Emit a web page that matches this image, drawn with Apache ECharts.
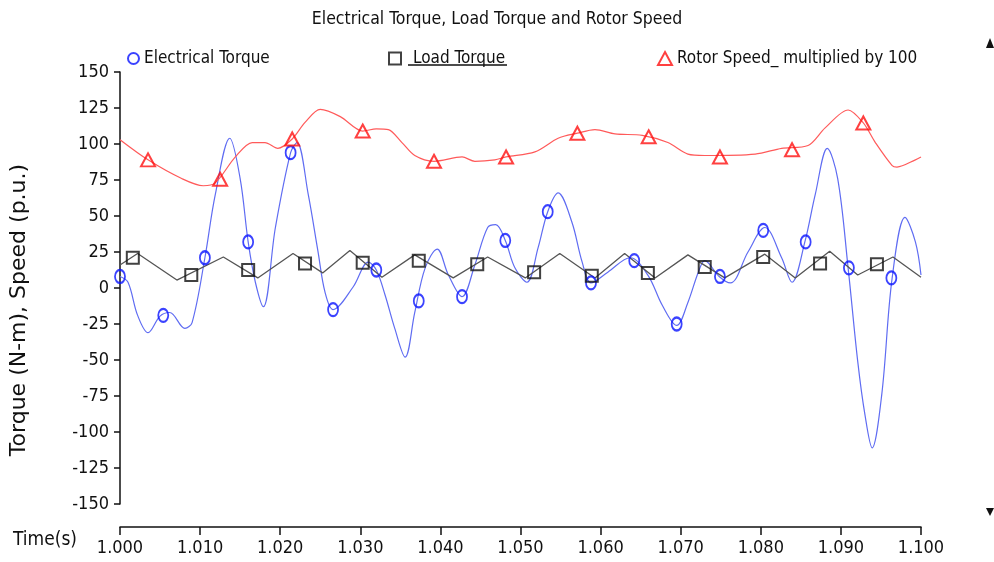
<!DOCTYPE html>
<html><head><meta charset="utf-8">
<script src="https://cdn.jsdelivr.net/npm/echarts@6/dist/echarts.min.js"></script>
<style>html,body{margin:0;padding:0;background:#fff}#c{width:994px;height:562px}</style>
</head><body><div id="c"></div>
<script>
// ---- data ----
const xTicks = ['1.000','1.010','1.020','1.030','1.040','1.050','1.060','1.070','1.080','1.090','1.100'];
const yTicks = [-150,-125,-100,-75,-50,-25,0,25,50,75,100,125,150];

const elecTime = [1.0000,1.0010,1.0022,1.0035,1.0050,1.0062,1.0081,1.0090,1.0106,1.0119,1.0137,1.0150,1.0160,1.0169,1.0179,1.0194,1.0213,1.0221,1.0235,1.0247,1.0256,1.0266,1.0291,1.0310,1.0320,1.0331,1.0343,1.0356,1.0368,1.0381,1.0396,1.0410,1.0427,1.0443,1.0459,1.0469,1.0481,1.0493,1.0508,1.0522,1.0534,1.0547,1.0564,1.0577,1.0588,1.0609,1.0637,1.0659,1.0677,1.0695,1.0709,1.0722,1.0730,1.0748,1.0762,1.0784,1.0805,1.0826,1.0839,1.0855,1.0868,1.0883,1.0896,1.0909,1.0921,1.0930,1.0939,1.0951,1.0964,1.0980,1.0993,1.1000];
const elecValue = [8,4,-19,-31,-19.5,-17,-28,-24,21,65,104,76,32,4,-13,42,94,101,65,26,-3,-15,0.7,18,12.5,-5,-28,-48,-17,14,27,9,-6,16,42,44,33,14,4,28,53,66,46,18,3.5,11,21,9,-12,-26,-10,11,19,8,3.5,25,42,21,4,32,65,97,76,14,-51,-88,-111,-74,7,49,32,9];
const elecMarkTime = [1.0000,1.0054,1.0106,1.0160,1.0213,1.0266,1.0320,1.0373,1.0427,1.0481,1.0534,1.0588,1.0642,1.0695,1.0749,1.0803,1.0856,1.0910,1.0963];
const elecMarkValue = [8,-19,21,32,94,-15,12.5,-9,-6,33,53,3.5,19,-25,8,40,32,14,7];

const loadTime = [1.0000,1.0022,1.0071,1.0129,1.0172,1.0216,1.0253,1.0287,1.0327,1.0368,1.0416,1.0459,1.0506,1.0549,1.0593,1.0630,1.0668,1.0709,1.0755,1.0805,1.0843,1.0886,1.0921,1.0965,1.1000];
const loadValue = [16,24,5.5,21.5,7,24,10.5,26,7.5,23,7,21.5,7,24,7,24,7,23,7,23.5,7,25.5,9,21.5,7.5];
const loadMarkTime = [1.0016,1.0089,1.0160,1.0231,1.0303,1.0373,1.0446,1.0517,1.0589,1.0659,1.0730,1.0803,1.0874,1.0945];
const loadMarkValue = [21,9,12.5,17,17.5,19,16.5,11,8.5,10.5,14.5,21.5,17,16.5];

const speedTime = [1.0000,1.0035,1.0077,1.0104,1.0119,1.0144,1.0165,1.0181,1.0197,1.0215,1.0231,1.0250,1.0275,1.0303,1.0320,1.0335,1.0352,1.0368,1.0392,1.0427,1.0443,1.0468,1.0482,1.0518,1.0547,1.0571,1.0593,1.0618,1.0652,1.0684,1.0709,1.0730,1.0793,1.0826,1.0859,1.0880,1.0909,1.0928,1.0943,1.0964,1.0970,1.0993,1.1000];
const speedValue = [103,89,76,71,73,91,101,101,97,103.5,115,124,119,109,110.5,110,101,92,88,91,88,89,91,94.5,104,107.5,110,107,106,101,93,92,93,97,99,111,123.6,114.6,101,85,84,89,91];
const speedMarkTime = [1.0035,1.0125,1.0215,1.0303,1.0392,1.0482,1.0571,1.0660,1.0749,1.0839,1.0928];
const speedMarkValue = [89,75.5,103.5,109,88,91,107.5,105,91,96,114.6];

const NAMES = ['Electrical Torque','Load Torque','Rotor Speed_ multiplied by 100'];
const NARROW = "'Liberation Sans Narrow','Arial Narrow','DejaVu Sans Condensed',sans-serif";

const zip = (a, b) => a.map((t, i) => [t, b[i]]);

const chart = echarts.init(document.getElementById('c'), null, {renderer: 'canvas'});
const legendText = {fontFamily: NARROW, fontSize: 17, color: '#111'};
chart.setOption({
  backgroundColor: '#fff',
  animation: false,
  title: {
    text: 'Electrical Torque, Load Torque and Rotor Speed',
    left: 'center', top: 5,
    textStyle: {fontFamily: NARROW, fontSize: 17.5, fontWeight: 'normal', color: '#111'}
  },
  legend: [
    {left: 122, top: 45, itemGap: 0, itemWidth: 11, itemHeight: 13, data: [NAMES[0]], textStyle: legendText},
    {left: 383, top: 45, itemGap: 0, itemWidth: 12, itemHeight: 12, data: [NAMES[1]],
      textStyle: Object.assign({}, legendText, {padding: [0, 0, 0, 7]})},
    {left: 652, top: 45, itemGap: 0, itemWidth: 14, itemHeight: 13, data: [NAMES[2]], textStyle: legendText}
  ],
  grid: {left: 120, right: 73, top: 72, bottom: 58, containLabel: false},
  xAxis: {
    type: 'value', min: 1.0, max: 1.1, interval: 0.01, offset: 23,
    axisLine: {show: true, onZero: false, lineStyle: {color: '#111', width: 1.5}},
    axisTick: {show: true, inside: false, length: 8, lineStyle: {color: '#111', width: 1.5}},
    axisLabel: {fontFamily: NARROW, fontSize: 18, color: '#111', margin: 12,
      formatter: v => xTicks[Math.round((v - 1.0) / 0.01)] || ''},
    splitLine: {show: false}
  },
  yAxis: {
    type: 'value', min: -150, max: 150, interval: 25,
    axisLine: {show: true, lineStyle: {color: '#111', width: 1.5}},
    axisTick: {show: true, inside: false, length: 6, lineStyle: {color: '#111', width: 1.5}},
    axisLabel: {fontFamily: NARROW, fontSize: 18, color: '#111', margin: 11,
      formatter: v => String(yTicks[Math.round((v + 150) / 25)])},
    splitLine: {show: false}
  },
  graphic: [
    {type: 'text', x: 19, y: 310, rotation: Math.PI / 2,
      style: {text: 'Torque (N-m), Speed (p.u.)', fill: '#111',
        font: "22px 'DejaVu Sans', sans-serif", align: 'center', verticalAlign: 'middle'}},
    {type: 'text', x: 13, y: 540, style: {text: 'Time(s)', fill: '#111', font: "19px " + NARROW, verticalAlign: 'middle'}},
    {type: 'line', shape: {x1: 408, y1: 65, x2: 507, y2: 65}, style: {stroke: '#111', lineWidth: 1.5}},
    {type: 'polygon', shape: {points: [[990, 38], [986, 48], [994, 48]]}, style: {fill: '#111'}},
    {type: 'polygon', shape: {points: [[990, 516], [986, 508], [994, 508]]}, style: {fill: '#111'}}
  ],
  series: [
    {name: NAMES[0], type: 'scatter', z: 5, data: zip(elecMarkTime, elecMarkValue),
      symbol: 'circle', symbolSize: [10, 13],
      itemStyle: {color: 'rgba(255,255,255,0)', borderColor: '#0a14ff', borderWidth: 2}},
    {name: NAMES[1], type: 'scatter', z: 5, data: zip(loadMarkTime, loadMarkValue),
      symbol: 'rect', symbolSize: 12,
      itemStyle: {color: 'rgba(255,255,255,0)', borderColor: '#111', borderWidth: 2}},
    {name: NAMES[2], type: 'scatter', z: 5, data: zip(speedMarkTime, speedMarkValue),
      symbol: 'triangle', symbolSize: [14, 13],
      itemStyle: {color: 'rgba(255,255,255,0)', borderColor: '#ff1010', borderWidth: 2}},
    {name: NAMES[0], type: 'line', z: 2, data: zip(elecTime, elecValue), showSymbol: false,
      smooth: 0.35, lineStyle: {color: '#5f6cf2', width: 1.2}, itemStyle: {color: '#5f6cf2'}},
    {name: NAMES[1], type: 'line', z: 2, data: zip(loadTime, loadValue), showSymbol: false,
      smooth: false, lineStyle: {color: '#555', width: 1.3}, itemStyle: {color: '#555'}},
    {name: NAMES[2], type: 'line', z: 2, data: zip(speedTime, speedValue), showSymbol: false,
      smooth: 0.3, lineStyle: {color: '#ff5a5a', width: 1.2}, itemStyle: {color: '#ff5a5a'}}
  ]
});
</script>
</body></html>
